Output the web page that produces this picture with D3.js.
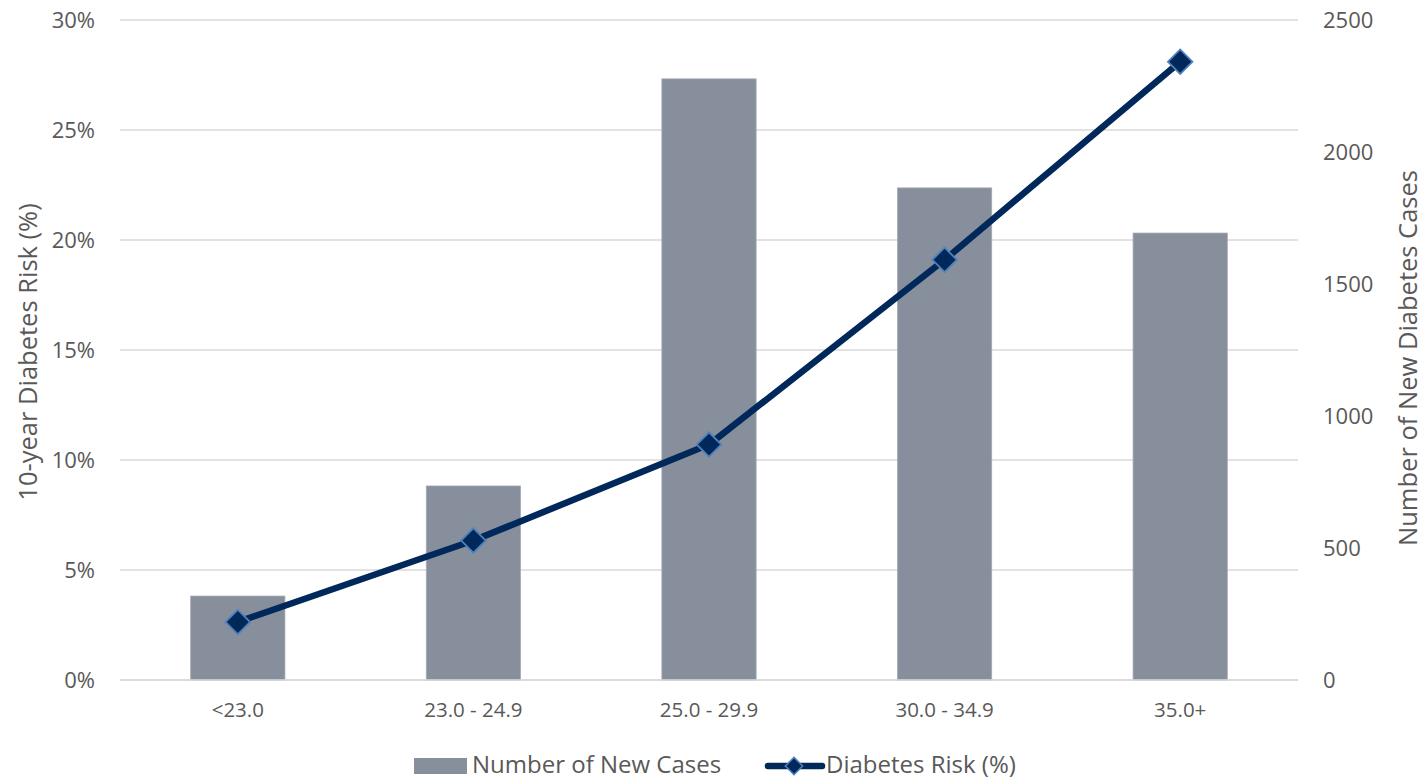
<!DOCTYPE html>
<html><head><meta charset="utf-8">
<script src="https://cdn.jsdelivr.net/npm/d3@7"></script>
<style>
html,body{margin:0;padding:0;background:#fff;}
text{font-family:"Open Sans",sans-serif;fill:#595959;}
</style></head>
<body>
<svg id="chart" width="1423" height="780"></svg>
<script>
const categories = ["<23.0", "23.0 - 24.9", "25.0 - 29.9", "30.0 - 34.9", "35.0+"];
const newCases = [318, 735, 2277, 1864, 1693];
const riskPct = [2.64, 6.34, 10.7, 19.1, 28.1];
const leftTicks = [0, 5, 10, 15, 20, 25, 30];
const rightTicks = [0, 500, 1000, 1500, 2000, 2500];
const leftTitle = "10-year Diabetes Risk (%)";
const rightTitle = "Number of New Diabetes Cases";
const barLabel = "Number of New Cases";
const lineLabel = "Diabetes Risk (%)";

const svg = d3.select("#chart");
const L = 120, R = 1298, T = 20, B = 680;

const x = d3.scaleBand().domain(categories).range([L, R]).paddingInner(0.6).paddingOuter(0.3);
const yL = d3.scaleLinear().domain([0, 30]).range([B, T]);
const yR = d3.scaleLinear().domain([0, 2500]).range([B, T]);

// gridlines
svg.append("g").selectAll("line").data(leftTicks).join("line")
  .attr("x1", L).attr("x2", R)
  .attr("y1", d => yL(d)).attr("y2", d => yL(d))
  .attr("stroke", "#d9d9d9").attr("stroke-width", 1.3);

// left axis
const gL = svg.append("g").attr("transform", `translate(${L},0)`)
  .call(d3.axisLeft(yL).tickValues(leftTicks).tickFormat(d => d + "%").tickSize(0).tickPadding(25));
gL.select(".domain").remove();
gL.selectAll("text").style("font-size", "22px").attr("fill", "#595959").style("font-family", "'Open Sans',sans-serif");

// right axis
const gR = svg.append("g").attr("transform", `translate(${R},0)`)
  .call(d3.axisRight(yR).tickValues(rightTicks).tickFormat(d3.format("d")).tickSize(0).tickPadding(25));
gR.select(".domain").remove();
gR.selectAll("text").style("font-size", "22px").attr("fill", "#595959").style("font-family", "'Open Sans',sans-serif");

// bars
svg.append("g").selectAll("rect").data(categories).join("rect")
  .attr("x", d => x(d)).attr("width", x.bandwidth())
  .attr("y", (d, i) => yR(newCases[i])).attr("height", (d, i) => B - yR(newCases[i]))
  .attr("fill", "#868f9b").attr("stroke", "#a3abb5").attr("stroke-width", 0.8);

// baseline
svg.append("line").attr("x1", L).attr("x2", R).attr("y1", B).attr("y2", B)
  .attr("stroke", "#d9d9d9").attr("stroke-width", 1.3);

// x axis labels
const gX = svg.append("g").attr("transform", `translate(0,${B})`)
  .call(d3.axisBottom(x).tickSize(0).tickPadding(22));
gX.select(".domain").remove();
gX.selectAll("text").style("font-size", "20.5px").attr("fill", "#595959").style("font-family", "'Open Sans',sans-serif");

// line
const cx = d => x(d) + x.bandwidth() / 2;
const line = d3.line().x((d, i) => cx(categories[i])).y(d => yL(d));
svg.append("path").datum(riskPct).attr("d", line)
  .attr("fill", "none").attr("stroke", "#00285a").attr("stroke-width", 6.5)
  .attr("stroke-linejoin", "round").attr("stroke-linecap", "round");

const diamond = d3.symbol().type(d3.symbolSquare).size(300);
svg.append("g").selectAll("path").data(riskPct).join("path")
  .attr("d", diamond)
  .attr("transform", (d, i) => `translate(${cx(categories[i])},${yL(d)}) rotate(45)`)
  .attr("fill", "#00285a").attr("stroke", "#4f81bd").attr("stroke-width", 1.8);

// axis titles
svg.append("text").attr("transform", `translate(37,352) rotate(-90)`)
  .attr("text-anchor", "middle").style("font-size", "25.5px").text(leftTitle);
svg.append("text").attr("transform", `translate(1417,358) rotate(-90)`)
  .attr("text-anchor", "middle").style("font-size", "25.5px").text(rightTitle);

// legend
const lg = svg.append("g");
lg.append("rect").attr("x", 414).attr("y", 758).attr("width", 53).attr("height", 16).attr("fill", "#868f9b");
lg.append("text").attr("x", 472).attr("y", 773).style("font-size", "24px").text(barLabel);
lg.append("line").attr("x1", 768).attr("x2", 822).attr("y1", 766).attr("y2", 766)
  .attr("stroke", "#00285a").attr("stroke-width", 6.5).attr("stroke-linecap", "round");
lg.append("path").attr("d", d3.symbol().type(d3.symbolSquare).size(150))
  .attr("transform", "translate(794,766) rotate(45)")
  .attr("fill", "#00285a").attr("stroke", "#4f81bd").attr("stroke-width", 1.5);
lg.append("text").attr("x", 826).attr("y", 773).style("font-size", "24px").text(lineLabel);
</script>
</body></html>
